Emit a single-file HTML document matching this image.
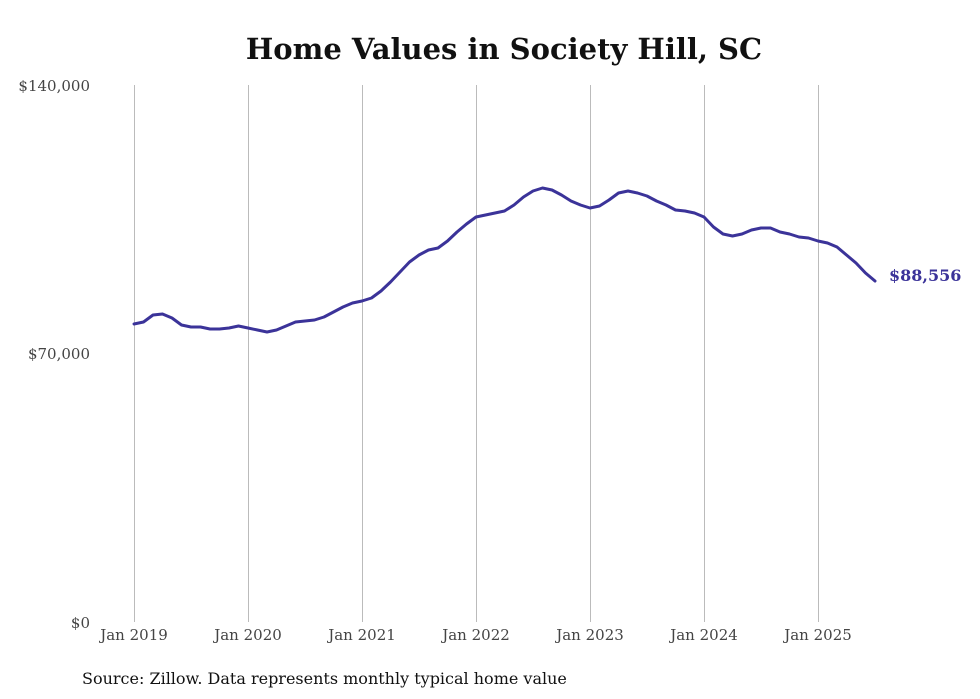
<!DOCTYPE html>
<html><head><meta charset="utf-8"><style>
html,body{margin:0;padding:0;background:#fff;}
svg{display:block;font-family:"DejaVu Serif","Liberation Serif",serif;}
</style></head><body>
<svg width="980" height="699" viewBox="0 0 980 699" xmlns="http://www.w3.org/2000/svg">
<text x="504" y="59" text-anchor="middle" font-size="29" font-weight="bold" fill="#111">Home Values in Society Hill, SC</text>
<g stroke="#bbb" stroke-width="1">
<line x1="134.5" y1="85" x2="134.5" y2="622"/>
<line x1="248.5" y1="85" x2="248.5" y2="622"/>
<line x1="362.5" y1="85" x2="362.5" y2="622"/>
<line x1="476.5" y1="85" x2="476.5" y2="622"/>
<line x1="590.5" y1="85" x2="590.5" y2="622"/>
<line x1="704.5" y1="85" x2="704.5" y2="622"/>
<line x1="818.5" y1="85" x2="818.5" y2="622"/>
</g>
<g font-size="15" fill="#444" text-anchor="end">
<text x="90" y="91">$140,000</text>
<text x="90" y="359">$70,000</text>
<text x="90" y="628">$0</text>
</g>
<g font-size="15" fill="#444" text-anchor="middle">
<text x="134" y="640">Jan 2019</text>
<text x="248" y="640">Jan 2020</text>
<text x="362" y="640">Jan 2021</text>
<text x="476" y="640">Jan 2022</text>
<text x="590" y="640">Jan 2023</text>
<text x="704" y="640">Jan 2024</text>
<text x="818" y="640">Jan 2025</text>
</g>
<polyline fill="none" stroke="#3b3399" stroke-width="3" stroke-linejoin="round" stroke-linecap="round" points="
134,324 143.5,322 153,315 162.5,314 172,318 181.5,325 191,327 200.5,327 210,329 219.5,329 229,328 238.5,326
248,328 257.5,330 267,332 276.5,330 286,326 295.5,322 305,321 314.5,320 324,317 333.5,312 343,307 352.5,303
362,301 371.5,298 381,291 390.5,282 400,272 409.5,262 419,255 428.5,250 438,248 447.5,241 457,232 466.5,224
476,217 485.5,215 495,213 504.5,211 514,205 523.5,197 533,191 542.5,188 552,190 561.5,195 571,201 580.5,205
590,208 599.5,206 609,200 618.5,193 628,191 637.5,193 647,196 656.5,201 666,205 675.5,210 685,211 694.5,213
704,217 713.5,227 723,234 732.5,236 742,234 751.5,230 761,228 770.5,228 780,232 789.5,234 799,237 808.5,238
818,241 827.5,243 837,247 846.5,255 856,263 865.5,273 875,281"/>
<text x="889" y="281" font-size="16" font-weight="bold" fill="#3b3399">$88,556</text>
<text x="82" y="684" font-size="16" fill="#111">Source: Zillow. Data represents monthly typical home value</text>
</svg>
</body></html>
